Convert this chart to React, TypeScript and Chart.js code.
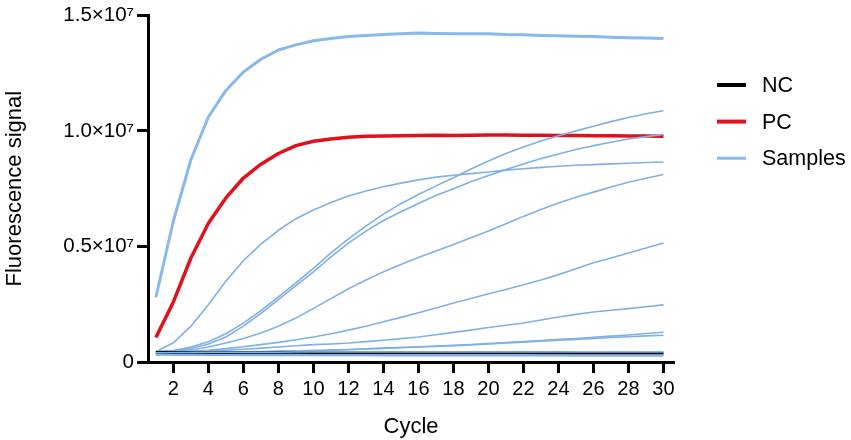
import React, { useEffect, useRef } from 'react'
import { Chart } from 'chart.js/auto'
import type { Plugin } from 'chart.js'

// all signals in units of 1e6
const cycles = Array.from({ length: 30 }, (_, i) => i + 1)
const xTicks = [2, 4, 6, 8, 10, 12, 14, 16, 18, 20, 22, 24, 26, 28, 30]
const yTicks = [0, 5e6, 10e6, 15e6]
const yTickLabels = ['0', '0.5×10⁷', '1.0×10⁷', '1.5×10⁷']

const nc = [0.41, 0.41, 0.4, 0.4, 0.4, 0.4, 0.4, 0.4, 0.39, 0.39, 0.39, 0.39, 0.39, 0.39, 0.39, 0.39, 0.39, 0.39, 0.39, 0.39, 0.39, 0.39, 0.39, 0.39, 0.38, 0.38, 0.38, 0.38, 0.38, 0.38]
const pc = [1.06, 2.6, 4.5, 6.0, 7.1, 7.96, 8.56, 9.02, 9.36, 9.55, 9.65, 9.72, 9.77, 9.78, 9.79, 9.8, 9.81, 9.8, 9.81, 9.82, 9.82, 9.81, 9.81, 9.8, 9.8, 9.79, 9.79, 9.78, 9.78, 9.77]
const sampleTop = [2.8, 6.1, 8.75, 10.6, 11.75, 12.55, 13.1, 13.5, 13.72, 13.9, 14.0, 14.08, 14.13, 14.17, 14.2, 14.23, 14.21, 14.2, 14.2, 14.2, 14.17, 14.16, 14.13, 14.11, 14.09, 14.08, 14.05, 14.03, 14.02, 14.0]
const sampleA = [0.45, 0.83, 1.55, 2.48, 3.5, 4.38, 5.1, 5.7, 6.2, 6.58, 6.9, 7.18, 7.4, 7.58, 7.74, 7.88, 8.0, 8.08, 8.15, 8.22, 8.3, 8.36, 8.42, 8.47, 8.51, 8.54, 8.57, 8.6, 8.63, 8.65]
const sampleB = [0.45, 0.5, 0.65, 0.88, 1.22, 1.68, 2.22, 2.82, 3.42, 4.05, 4.72, 5.33, 5.88, 6.4, 6.85, 7.25, 7.62, 7.97, 8.35, 8.7, 9.02, 9.3, 9.56, 9.79, 10.0, 10.2, 10.4, 10.58, 10.74, 10.87]
const sampleC = [0.45, 0.48, 0.58, 0.78, 1.08, 1.55, 2.1, 2.7, 3.3, 3.9, 4.55, 5.14, 5.66, 6.12, 6.5, 6.86, 7.2, 7.5, 7.8, 8.07, 8.33, 8.57, 8.8, 9.0, 9.19, 9.36, 9.51, 9.65, 9.75, 9.85]
const sampleD = [0.42, 0.45, 0.52, 0.65, 0.82, 1.02, 1.25, 1.55, 1.9, 2.32, 2.74, 3.17, 3.55, 3.9, 4.22, 4.52, 4.8, 5.08, 5.38, 5.67, 5.98, 6.3, 6.6, 6.88, 7.13, 7.35, 7.57, 7.78, 7.95, 8.11]
const sampleE = [0.42, 0.43, 0.46, 0.51, 0.58, 0.66, 0.75, 0.85, 0.96, 1.08, 1.22, 1.38, 1.55, 1.74, 1.93, 2.13, 2.34, 2.55, 2.75, 2.95, 3.14, 3.34, 3.55, 3.78, 4.03, 4.29, 4.5, 4.72, 4.93, 5.15]
const sampleF = [0.42, 0.42, 0.44, 0.47, 0.51, 0.55, 0.6, 0.65, 0.7, 0.75, 0.78, 0.82, 0.88, 0.94, 1.01, 1.08, 1.18, 1.28, 1.38, 1.49, 1.59, 1.69, 1.82, 1.95, 2.06, 2.16, 2.24, 2.31, 2.39, 2.47]
const sampleG = [0.4, 0.4, 0.41, 0.42, 0.43, 0.44, 0.45, 0.47, 0.48, 0.5, 0.52, 0.54, 0.57, 0.6, 0.63, 0.66, 0.69, 0.72, 0.76, 0.8, 0.84, 0.88, 0.93, 0.98, 1.02, 1.07, 1.12, 1.17, 1.23, 1.29]
const sampleH = [0.38, 0.38, 0.39, 0.4, 0.41, 0.42, 0.43, 0.45, 0.47, 0.49, 0.51, 0.53, 0.56, 0.59, 0.62, 0.65, 0.67, 0.7, 0.74, 0.78, 0.82, 0.86, 0.9, 0.94, 0.98, 1.02, 1.06, 1.09, 1.13, 1.16]
const flatA = [0.4, 0.41, 0.41, 0.42, 0.42, 0.42, 0.42, 0.42, 0.43, 0.43, 0.43, 0.43, 0.43, 0.43, 0.43, 0.43, 0.43, 0.43, 0.43, 0.43, 0.43, 0.43, 0.43, 0.43, 0.43, 0.43, 0.43, 0.43, 0.43, 0.43]
const flatB = [0.33, 0.32, 0.32, 0.32, 0.32, 0.32, 0.32, 0.32, 0.32, 0.31, 0.31, 0.31, 0.31, 0.31, 0.31, 0.31, 0.31, 0.31, 0.31, 0.31, 0.31, 0.31, 0.3, 0.3, 0.3, 0.3, 0.3, 0.3, 0.3, 0.3]
const flatC = [0.3, 0.3, 0.29, 0.29, 0.29, 0.28, 0.28, 0.28, 0.28, 0.28, 0.28, 0.28, 0.28, 0.27, 0.27, 0.27, 0.27, 0.27, 0.27, 0.27, 0.27, 0.27, 0.27, 0.27, 0.26, 0.26, 0.26, 0.26, 0.26, 0.26]

const flatSamples = [flatA, flatB, flatC]
const risingSamples = [sampleA, sampleB, sampleC, sampleD, sampleE, sampleF, sampleG, sampleH]

const legendNames = ['NC', 'PC', 'Samples']
const BLACK = '#000000'
const RED = '#e2101c'
const BLUE = '#88b8ec'
const THIN_BLUE = '#7fb0e6'
const legendColors = [BLACK, RED, BLUE]
const FONT = '"Liberation Sans", Arial, sans-serif'

const toSeries = (vals: number[]) => vals.map((v) => v * 1e6)

const sideLegend: Plugin<'line'> = {
  id: 'sideLegend',
  afterDraw(chart) {
    const { ctx } = chart
    ctx.save()
    ctx.font = `21.5px ${FONT}`
    ctx.textBaseline = 'middle'
    legendNames.forEach((name, i) => {
      const y = 85 + i * 36.6
      ctx.fillStyle = legendColors[i]
      ctx.fillRect(717, y - (i === 2 ? 1.5 : 2), 29, i === 2 ? 3 : 4)
      ctx.fillStyle = '#000'
      ctx.fillText(name, 762, y + 1)
    })
    ctx.restore()
  },
}

export default function App() {
  const ref = useRef<HTMLCanvasElement | null>(null)

  useEffect(() => {
    if (!ref.current) return
    const chart = new Chart(ref.current, {
      type: 'line',
      data: {
        labels: cycles,
        datasets: [
          ...flatSamples.map((s) => ({ label: 'Samples', data: toSeries(s), borderColor: THIN_BLUE, borderWidth: 1.6 })),
          { label: 'NC', data: toSeries(nc), borderColor: BLACK, borderWidth: 3 },
          ...risingSamples.map((s) => ({ label: 'Samples', data: toSeries(s), borderColor: THIN_BLUE, borderWidth: 1.6 })),
          { label: 'PC', data: toSeries(pc), borderColor: RED, borderWidth: 3.5 },
          { label: 'Samples', data: toSeries(sampleTop), borderColor: BLUE, borderWidth: 3 },
        ].map((d) => ({
          ...d,
          data: d.data.map((y, i) => ({ x: cycles[i], y })),
          pointRadius: 0,
          tension: 0,
          borderJoinStyle: 'round' as const,
        })),
      },
      options: {
        animation: false,
        responsive: false,
        layout: { padding: { top: 13, right: 177 } },
        plugins: { legend: { display: false }, tooltip: { enabled: false } },
        scales: {
          x: {
            type: 'linear',
            min: 0.55,
            max: 30.6,
            afterBuildTicks: (axis) => {
              axis.ticks = xTicks.map((value) => ({ value }))
            },
            afterFit: (axis) => {
              axis.height = 78
            },
            border: { color: BLACK, width: 3 },
            grid: { drawOnChartArea: false, tickColor: BLACK, tickWidth: 3, tickLength: 11 },
            ticks: {
              autoSkip: false,
              maxRotation: 0,
              padding: 4,
              color: '#000',
              font: { family: FONT, size: 20 },
              callback: (v) => String(v),
            },
            title: {
              display: true,
              text: 'Cycle',
              color: '#000',
              font: { family: FONT, size: 22 },
              padding: { top: 5, bottom: 0 },
            },
          },
          y: {
            min: 0,
            max: 15e6,
            afterBuildTicks: (axis) => {
              axis.ticks = yTicks.map((value) => ({ value }))
            },
            afterFit: (axis) => {
              axis.width = 148
            },
            border: { color: BLACK, width: 3 },
            grid: { drawOnChartArea: false, tickColor: BLACK, tickWidth: 3, tickLength: 11 },
            ticks: {
              padding: 3,
              color: '#000',
              font: { family: FONT, size: 20.5 },
              callback: (v) => yTickLabels[yTicks.indexOf(Number(v))],
            },
            title: {
              display: true,
              text: 'Fluorescence signal',
              color: '#000',
              font: { family: FONT, size: 22 },
              padding: { top: 2, bottom: 4 },
            },
          },
        },
      },
      plugins: [sideLegend],
    })
    return () => chart.destroy()
  }, [])

  return (
    <div style={{ position: 'fixed', left: 0, top: 0, width: 851, height: 440, background: '#fff' }}>
      <canvas ref={ref} width={851} height={440} style={{ display: 'block' }} />
    </div>
  )
}
